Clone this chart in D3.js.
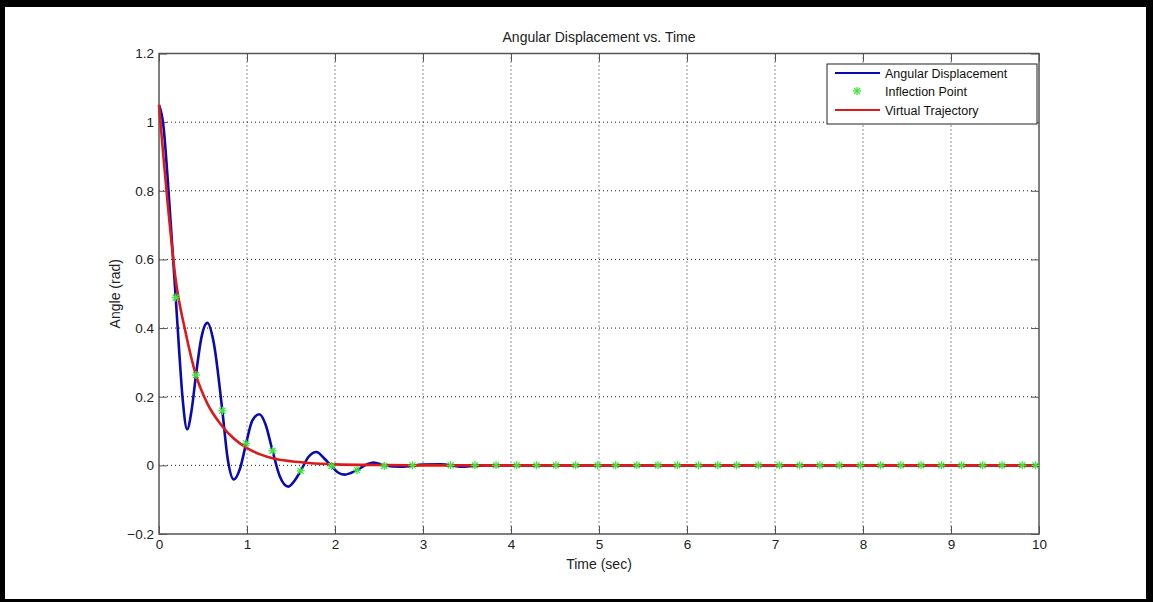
<!DOCTYPE html>
<html>
<head>
<meta charset="utf-8">
<script src="https://cdn.jsdelivr.net/npm/d3@7"></script>
<style>
  body { margin: 0; background: #000; }
  text { font-family: "Liberation Sans", Arial, sans-serif; }
</style>
</head>
<body>
<script>
// Chart data
var timeBlue = [0, 0.05, 0.10, 0.15, 0.19, 0.23, 0.27, 0.32, 0.37, 0.42, 0.48, 0.55, 0.62, 0.72, 0.78, 0.85, 0.92, 0.99,
  1.06, 1.14, 1.21, 1.29, 1.37, 1.47, 1.54, 1.61, 1.70, 1.79, 1.87, 1.96, 2.03, 2.11, 2.18, 2.25, 2.34, 2.44,
  2.56, 2.75, 3.0, 3.2, 3.45, 3.7, 4.0, 10];
var angleBlue = [1.05, 0.99, 0.83, 0.64, 0.489, 0.33, 0.19, 0.105, 0.16, 0.263, 0.37, 0.415, 0.36, 0.159, 0.02, -0.041, -0.01, 0.064,
  0.13, 0.149, 0.12, 0.0425, -0.03, -0.062, -0.045, -0.016, 0.025, 0.039, 0.022, -0.002, -0.02, -0.027, -0.022, -0.014, 0.0, 0.008,
  0.0, -0.004, 0.002, 0.003, -0.004, 0.0, 0.0, 0.0];

var timeRed = [0, 0.05, 0.1, 0.19, 0.3, 0.42, 0.55, 0.7, 0.85, 1.0, 1.15, 1.3, 1.5, 1.7, 2.0, 2.5, 3.0, 10];
var angleRed = [1.05, 0.9, 0.76, 0.54, 0.39, 0.263, 0.18, 0.12, 0.078, 0.05, 0.032, 0.02, 0.012, 0.007, 0.003, 0.001, 0, 0];

var timeStar = [0.19, 0.42, 0.72, 0.99, 1.29, 1.61, 1.96, 2.25, 2.56, 2.88, 3.315, 3.59, 3.83, 4.065, 4.29, 4.51, 4.735,
  4.985, 5.19, 5.43, 5.67, 5.89, 6.13, 6.35, 6.565, 6.81, 7.05, 7.28, 7.51, 7.73, 7.97, 8.20, 8.43, 8.66, 8.89,
  9.12, 9.36, 9.58, 9.81, 9.96];
var angleStar = [0.489, 0.263, 0.159, 0.064, 0.0425, -0.016, -0.002, -0.014, -0.002, 0, 0, 0, 0, 0, 0, 0, 0,
  0, 0, 0, 0, 0, 0, 0, 0, 0, 0, 0, 0, 0, 0, 0, 0, 0, 0,
  0, 0, 0, 0, 0];

var xTicks = [0, 1, 2, 3, 4, 5, 6, 7, 8, 9, 10];
var yTicks = [-0.2, 0, 0.2, 0.4, 0.6, 0.8, 1, 1.2];
var legendNames = ['Angular Displacement', 'Inflection Point', 'Virtual Trajectory'];

// Size
var w = 1153;
var h = 602;
var pLeft = 159, pRight = 1039, pTop = 53.5, pBottom = 534;

var svg = d3.select('body')
  .append('svg')
  .attr('width', w)
  .attr('height', h)
  .style('display', 'block');

// frame
svg.append('rect').attr('width', w).attr('height', h).attr('fill', '#000');
svg.append('rect').attr('x', 5).attr('y', 7).attr('width', 1141).attr('height', 592).attr('fill', '#fff');

var x = d3.scaleLinear().domain([0, 10]).range([pLeft, pRight]);
var y = d3.scaleLinear().domain([-0.2, 1.2]).range([pBottom, pTop]);

// grid
svg.append('g')
  .selectAll('line')
  .data(xTicks.slice(1, -1))
  .enter()
  .append('line')
  .attr('x1', function(d) { return x(d); })
  .attr('x2', function(d) { return x(d); })
  .attr('y1', pTop)
  .attr('y2', pBottom)
  .attr('stroke', '#222')
  .attr('stroke-width', 1)
  .attr('stroke-dasharray', '1,3');

svg.append('g')
  .selectAll('line')
  .data(yTicks.slice(1, -1))
  .enter()
  .append('line')
  .attr('x1', pLeft)
  .attr('x2', pRight)
  .attr('y1', function(d) { return y(d); })
  .attr('y2', function(d) { return y(d); })
  .attr('stroke', '#222')
  .attr('stroke-width', 1)
  .attr('stroke-dasharray', '1,3');

// axes (matlab style: ticks inside, on all four sides)
var axisColor = '#555';
function styleAxis(g) {
  g.select('.domain').remove();
  g.selectAll('.tick line').attr('stroke', axisColor);
  g.selectAll('.tick text').attr('fill', '#222').attr('font-size', '13.5px')
    .attr('font-family', '"Liberation Sans", Arial, sans-serif');
}
svg.append('g')
  .attr('transform', 'translate(0,' + pBottom + ')')
  .call(d3.axisBottom(x).tickValues(xTicks).tickSizeInner(-8).tickSizeOuter(0).tickPadding(5).tickFormat(d3.format('d')))
  .call(styleAxis);
svg.append('g')
  .attr('transform', 'translate(0,' + pTop + ')')
  .call(d3.axisTop(x).tickValues(xTicks).tickSizeInner(-8).tickSizeOuter(0).tickFormat(''))
  .call(styleAxis);
svg.append('g')
  .attr('transform', 'translate(' + pLeft + ',0)')
  .call(d3.axisLeft(y).tickValues(yTicks).tickSizeInner(-8).tickSizeOuter(0).tickPadding(5)
    .tickFormat(function(d) { return d3.format('~g')(+d.toFixed(1)); }))
  .call(styleAxis);
svg.append('g')
  .attr('transform', 'translate(' + pRight + ',0)')
  .call(d3.axisRight(y).tickValues(yTicks).tickSizeInner(-8).tickSizeOuter(0).tickFormat(''))
  .call(styleAxis);

svg.append('rect')
  .attr('x', pLeft).attr('y', pTop)
  .attr('width', pRight - pLeft).attr('height', pBottom - pTop)
  .attr('fill', 'none')
  .attr('stroke', axisColor)
  .attr('stroke-width', 1.5);

// lines
var curveLine = d3.line()
  .x(function(d) { return x(d[0]); })
  .y(function(d) { return y(d[1]); })
  .curve(d3.curveMonotoneX);

svg.append('path')
  .datum(d3.zip(timeBlue, angleBlue))
  .attr('d', curveLine)
  .attr('fill', 'none')
  .attr('stroke', '#0a0ab4')
  .attr('stroke-width', 2.6);

svg.append('path')
  .datum(d3.zip(timeRed, angleRed))
  .attr('d', curveLine)
  .attr('fill', 'none')
  .attr('stroke', '#dd1a1a')
  .attr('stroke-width', 2.6);

// inflection stars
function drawStar(sel) {
  sel.append('line').attr('x1', -4).attr('x2', 4).attr('y1', 0).attr('y2', 0);
  sel.append('line').attr('x1', 0).attr('x2', 0).attr('y1', -4).attr('y2', 4);
  sel.append('line').attr('x1', -3).attr('x2', 3).attr('y1', -3).attr('y2', 3);
  sel.append('line').attr('x1', -3).attr('x2', 3).attr('y1', 3).attr('y2', -3);
}
svg.append('g')
  .selectAll('g')
  .data(d3.zip(timeStar, angleStar))
  .enter()
  .append('g')
  .attr('transform', function(d) { return 'translate(' + x(d[0]) + ',' + y(d[1]) + ')'; })
  .attr('stroke', '#3ee63e')
  .attr('stroke-width', 1.3)
  .call(drawStar);

// title and labels
svg.append('text')
  .attr('x', (pLeft + pRight) / 2)
  .attr('y', 42)
  .attr('text-anchor', 'middle')
  .attr('font-size', '14px')
  .attr('fill', '#222')
  .text('Angular Displacement vs. Time');

svg.append('text')
  .attr('x', (pLeft + pRight) / 2)
  .attr('y', 569)
  .attr('text-anchor', 'middle')
  .attr('font-size', '14px')
  .attr('fill', '#222')
  .text('Time (sec)');

svg.append('text')
  .attr('transform', 'translate(120,' + ((pTop + pBottom) / 2) + ') rotate(-90)')
  .attr('text-anchor', 'middle')
  .attr('font-size', '14px')
  .attr('fill', '#222')
  .text('Angle (rad)');

// legend
var lg = svg.append('g').attr('transform', 'translate(827,64)');
lg.append('rect')
  .attr('width', 210).attr('height', 60)
  .attr('fill', '#fff')
  .attr('stroke', '#222')
  .attr('stroke-width', 1);

var legendY = [9, 27, 46];
lg.selectAll('text')
  .data(legendNames)
  .enter()
  .append('text')
  .attr('x', 58)
  .attr('y', function(d, i) { return legendY[i] + 4.5; })
  .attr('font-size', '12.5px')
  .attr('fill', '#111')
  .text(function(d) { return d; });

lg.append('line').attr('x1', 8).attr('x2', 53).attr('y1', legendY[0]).attr('y2', legendY[0])
  .attr('stroke', '#0a0ab4').attr('stroke-width', 2);
lg.append('line').attr('x1', 8).attr('x2', 53).attr('y1', legendY[2]).attr('y2', legendY[2])
  .attr('stroke', '#dd1a1a').attr('stroke-width', 2);
lg.append('g')
  .attr('transform', 'translate(30,' + legendY[1] + ')')
  .attr('stroke', '#3ee63e')
  .attr('stroke-width', 1.3)
  .call(drawStar);
</script>
</body>
</html>
